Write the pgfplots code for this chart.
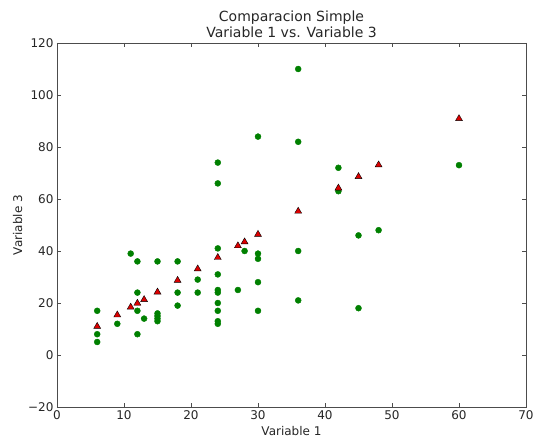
\documentclass[border=0pt]{standalone}
\usepackage{fontspec}
\setmainfont{DejaVu Sans}
\usepackage{pgfplots}
\pgfplotsset{compat=1.18}
\definecolor{mplgreen}{RGB}{0,128,0}
\definecolor{mplred}{RGB}{220,0,0}
\begin{document}
\begin{tikzpicture}
    % fixed page: 533 x 444, axis box at 57..526 / 43..407 px
    \useasboundingbox (-57pt,-37pt) rectangle (476pt,407pt);
    \begin{axis}[
            scale only axis,
            width=469pt,
            height=364pt,
            xmin=0, xmax=70,
            ymin=-20, ymax=120,
            xtick={0,10,...,70},
            ytick={-20,0,...,120},
            yticklabels={−20,0,20,40,60,80,100,120},
            tick align=inside,
            major tick length=4pt,
            tick style={black!70, line width=0.6pt},
            axis line style={black!70, line width=0.8pt},
            ticklabel style={font=\fontsize{12}{14}\selectfont, text=black!85},
            /pgf/number format/assume math mode=true,
            xlabel={Variable 1},
            ylabel={Variable 3},
            label style={font=\fontsize{12}{14}\selectfont, text=black!85},
            xlabel style={yshift=0pt},
            ylabel style={yshift=-1pt},
            title={Comparacion Simple\\Variable 1 vs. Variable 3},
            title style={font=\fontsize{14}{15.5}\selectfont, align=center, yshift=-4pt, text=black!85},
        ]
        % observed values
        \addplot[only marks, mark=*, mark size=3pt, color=mplgreen] coordinates {
                (6,17) (6,8) (6,5) (9,12) (11,39)
                (12,36) (12,24) (12,17) (12,8) (13,14)
                (15,36) (15,16) (15,15) (15,14) (15,13)
                (18,36) (18,24) (18,19) (21,29) (21,24)
                (24,74) (24,66) (24,41) (24,31) (24,25) (24,24)
                (24,20) (24,17) (24,13) (24,12)
                (27,25) (28,40)
                (30,84) (30,39) (30,37) (30,28) (30,17)
                (36,110) (36,82) (36,40) (36,21)
                (42,72) (42,63) (45,46) (45,18) (48,48) (60,73)
            };
        % fitted values
        \addplot[only marks, mark=triangle*, mark size=4pt,
            mark options={fill=mplred, draw=black, line width=0.4pt}] coordinates {
                (6,11) (9,15.4) (11,18.4) (12,19.9) (13,21.3) (15,24.2)
                (18,28.7) (21,33.1) (24,37.5) (27,42) (28,43.5) (30,46.4)
                (36,55.3) (42,64.2) (45,68.6) (48,73.1) (60,90.9)
            };
    \end{axis}
\end{tikzpicture}
\end{document}
